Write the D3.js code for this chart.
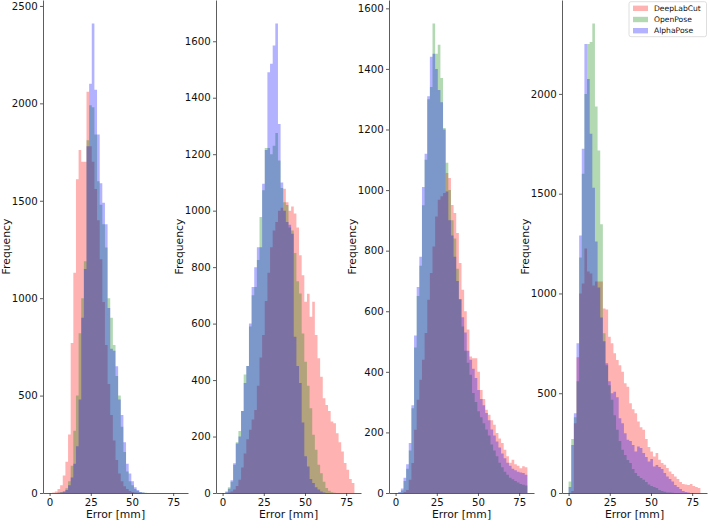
<!DOCTYPE html>
<html>
<head>
<meta charset="utf-8">
<script src="https://cdn.jsdelivr.net/npm/d3@7"></script>
<style>
    html, body { margin: 0; padding: 0; background: #ffffff; }
    svg { display: block; font-family: 'DejaVu Sans', sans-serif; }
</style>
</head>
<body>
<svg id="chart" width="708" height="521"></svg>
<script>
// histogram bins: 50 bins over 0..80 mm
var binLo = 0, binHi = 80, binCount = 50;

var seriesNames = ['DeepLabCut', 'OpenPose', 'AlphaPose'];
var xTickValues = [0, 25, 50, 75];
var xLabel = 'Error [mm]';
var yLabel = 'Frequency';

// panel 1
var dlc1 = [0,2,8,20,40,90,160,300,770,1130, 1610,1760,1700,1700,2060,1780,1700,1560,1400,1200,
            980,760,560,400,270,170,100,60,35,20, 10,5,2,1,0,0,0,0,0,0, 0,0,0,0,0,0,0,0,0,0];
var op1  = [0,0,0,2,5,10,25,60,140,320, 500,820,1000,1190,1810,1990,1980,1840,1600,1480,
            1380,1260,1000,900,760,600,500,340,210,110, 60,40,20,10,5,2,1,0,0,0, 0,0,0,0,0,0,0,0,0,0];
var ap1  = [0,0,0,1,3,5,15,40,80,150, 240,480,900,1150,1780,2100,2410,2070,1840,1590,
            1490,1380,950,740,730,650,480,400,260,150, 100,60,30,15,5,2,0,0,0,0, 0,0,0,0,0,0,0,0,0,0];
var yTicks1 = [0, 500, 1000, 1500, 2000, 2500];

// panel 2
var dlc2 = [0,0,2,5,12,25,47,90,140,190, 224,260,294,380,480,560,680,780,870,930,
            960,1000,1010,1078,1030,1000,1015,990,940,842, 771,677,706,624,677,560,477,412,336,312,
            290,253,247,212,180,147,106,82,50,35];
var op2  = [0,3,20,40,100,180,220,290,420,450, 590,700,730,825,978,1072,1222,1222,1200,1230,
            1275,1178,1080,1030,1020,940,930,850,750,707, 565,465,380,300,206,153,100,70,40,18,
            8,3,1,0,0,0,0,0,0,0];
var ap2  = [0,5,15,45,105,175,200,290,390,450, 600,730,800,870,870,1095,1215,1490,1520,1585,
            1663,1307,1100,1000,960,950,918,553,450,390, 250,130,94,50,35,20,12,5,2,0,
            0,0,0,0,0,0,0,0,0,0];
var yTicks2 = [0, 200, 400, 600, 800, 1000, 1200, 1400, 1600];

// panel 3
var dlc3 = [0,0,0,3,10,44,99,209,308,374, 440,528,638,726,814,913,968,980,990,1056,
            1040,951,924,858,759,671,600,540,451,445, 445,400,340,310,275,258,240,225,198,180,
            165,143,121,100,110,95,90,82,88,85];
var op3  = [0,2,8,40,80,140,280,480,650,750, 950,1100,1300,1340,1550,1450,1480,1370,1205,1090,
            1000,900,840,740,640,550,470,430,390,330, 300,270,250,230,210,190,160,140,121,100,
            85,70,60,50,45,40,35,30,27,25];
var ap3  = [0,3,15,50,95,165,290,520,680,780, 1010,1120,1310,1440,1450,1400,1330,1290,1200,995,
            900,850,780,700,640,580,530,470,440,410, 380,340,310,290,264,240,210,190,170,150,
            130,115,100,90,80,75,70,68,66,60];
var yTicks3 = [0, 200, 400, 600, 800, 1000, 1200, 1400, 1600];

// panel 4
var dlc4 = [0,10,350,680,1000,1050,1225,1110,1100,1040, 1060,1060,1060,925,920,783,750,700,667,640,
            608,550,533,450,420,400,358,330,317,270, 230,208,183,200,167,150,142,125,108,95,
            83,70,55,45,42,40,45,35,30,25];
var op4  = [58,270,380,560,1180,1600,2000,2250,2260,2353, 1937,1717,1347,800,640,540,467,390,317,260,
            217,190,165,150,120,100,85,75,67,55, 42,35,30,25,15,10,6,3,2,1,
            0,0,0,0,0,0,0,0,0,0];
var ap4  = [30,240,400,750,1290,1725,2250,2075,1800,1530, 1260,1030,880,760,650,560,500,508,480,375,
            350,300,267,260,240,208,233,225,200,180, 158,170,133,140,130,120,100,83,70,58,
            40,30,20,10,5,2,0,0,0,0];
var yTicks4 = [0, 500, 1000, 1500, 2000];

var panels = [
    { series: [dlc1, op1, ap1], yTicks: yTicks1 },
    { series: [dlc2, op2, ap2], yTicks: yTicks2 },
    { series: [dlc3, op3, ap3], yTicks: yTicks3 },
    { series: [dlc4, op4, ap4], yTicks: yTicks4, legend: true }
];

var COLORS = ['#ff0000', '#008000', '#0000ff'];
var ALPHA = 0.3;

var AX_LEFT = 43, AX_W = 145, AX_GAP = 28;
var AX_TOP = 0, AX_BOTTOM = 493;
var TICK_FONT = 10.2, LABEL_FONT = 10.8;

var svg = d3.select('#chart');

var edges = d3.range(binCount + 1).map(function (i) {
    return binLo + i * (binHi - binLo) / binCount;
});
var margin = 0.05 * (binHi - binLo);
var fmt = d3.format('d');

panels.forEach(function (p, k) {
    var left = AX_LEFT + k * (AX_W + AX_GAP);

    var x = d3.scaleLinear()
        .domain([binLo - margin, binHi + margin])
        .range([left, left + AX_W]);

    var ymax = d3.max(p.series, function (s) { return d3.max(s); }) * 1.05;
    var y = d3.scaleLinear().domain([0, ymax]).range([AX_BOTTOM, AX_TOP]);

    var g = svg.append('g');

    var area = d3.area()
        .curve(d3.curveStepAfter)
        .x(function (d) { return x(d[0]); })
        .y0(y(0))
        .y1(function (d) { return y(d[1]); });

    p.series.forEach(function (vals, j) {
        var pts = vals.map(function (v, i) { return [edges[i], v]; });
        pts.push([edges[binCount], vals[binCount - 1]]);
        g.append('path')
            .datum(pts)
            .attr('d', area)
            .attr('fill', COLORS[j])
            .attr('fill-opacity', ALPHA)
            .attr('stroke', 'none');
    });

    var xAxis = g.append('g')
        .attr('transform', 'translate(0,' + AX_BOTTOM + ')')
        .call(d3.axisBottom(x).tickValues(xTickValues).tickFormat(fmt)
            .tickSize(3).tickSizeOuter(0).tickPadding(2.3));

    var yAxis = g.append('g')
        .attr('transform', 'translate(' + left + ',0)')
        .call(d3.axisLeft(y).tickValues(p.yTicks).tickFormat(fmt)
            .tickSize(3).tickSizeOuter(0).tickPadding(2.3));

    [xAxis, yAxis].forEach(function (ax) {
        ax.select('.domain').attr('stroke', '#333').attr('stroke-width', 0.8);
        ax.selectAll('.tick line').attr('stroke', '#333').attr('stroke-width', 0.8);
        ax.selectAll('.tick text')
            .attr('fill', '#111')
            .style('font-size', TICK_FONT + 'px')
            .style('font-family', "'DejaVu Sans', sans-serif");
    });

    g.append('text')
        .attr('x', left + AX_W / 2)
        .attr('y', 517.5)
        .attr('text-anchor', 'middle')
        .attr('fill', '#111')
        .style('font-size', LABEL_FONT + 'px')
        .text(xLabel);

    g.append('text')
        .attr('transform', 'translate(' + (left - 33.5) + ',' + ((AX_TOP + AX_BOTTOM) / 2) + ') rotate(-90)')
        .attr('text-anchor', 'middle')
        .attr('fill', '#111')
        .style('font-size', LABEL_FONT + 'px')
        .text(yLabel);

    if (p.legend) {
        var lg = svg.append('g');
        lg.append('rect')
            .attr('x', 629).attr('y', 1.7)
            .attr('width', 77.5).attr('height', 35)
            .attr('rx', 2)
            .attr('fill', '#ffffff')
            .attr('stroke', '#d6d6d6')
            .attr('stroke-width', 0.8);
        seriesNames.forEach(function (name, j) {
            var cy = 8.3 + j * 11.2;
            lg.append('rect')
                .attr('x', 633).attr('y', cy - 2.7)
                .attr('width', 15).attr('height', 5.4)
                .attr('fill', COLORS[j])
                .attr('fill-opacity', ALPHA);
            lg.append('text')
                .attr('x', 654).attr('y', cy)
                .attr('dy', '0.35em')
                .attr('fill', '#111')
                .style('font-size', '7.6px')
                .text(name);
        });
    }
});
</script>
</body>
</html>
